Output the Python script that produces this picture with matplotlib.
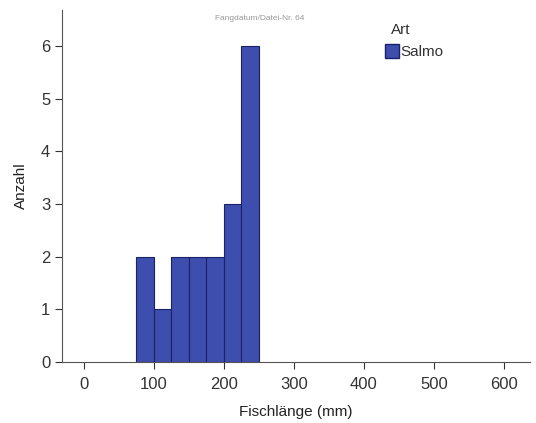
import matplotlib
matplotlib.use("Agg")
import matplotlib.pyplot as plt
from matplotlib.patches import Patch

plt.rcParams['font.family'] = ['Liberation Sans', 'DejaVu Sans']

bin_edges = [75, 100, 125, 150, 175, 200, 225, 250]
counts = [2, 1, 2, 2, 2, 3, 6]
x_ticks = [0, 100, 200, 300, 400, 500, 600]
y_ticks = [0, 1, 2, 3, 4, 5, 6]
series_name = "Salmo"
legend_title = "Art"
title = "Fangdatum/Datei-Nr. 64"

fig = plt.figure(figsize=(5.36, 4.23), dpi=100)
ax = fig.add_axes([0.1157, 0.1442, 0.873, 0.832])

lefts = bin_edges[:-1]
widths = [b - a for a, b in zip(bin_edges[:-1], bin_edges[1:])]
ax.bar(lefts, counts, width=widths, align='edge', color='#3E4EAE',
       edgecolor='#1A2266', linewidth=0.8)

ax.set_xlim(-31, 637)
ax.set_ylim(0, 6.68)
ax.set_xticks(x_ticks)
ax.set_yticks(y_ticks)
ax.tick_params(direction='out', length=5, width=0.8, labelsize=12, colors='#333333')
ax.tick_params(axis='x', pad=6)
for s in ['top', 'right']:
    ax.spines[s].set_visible(False)
for s in ['left', 'bottom']:
    ax.spines[s].set_color('#555555')
    ax.spines[s].set_linewidth(0.8)
ax.set_xlabel("Fischlänge (mm)", fontsize=11, color='#222222', labelpad=9)
ax.set_ylabel("Anzahl", fontsize=11, color='#222222', labelpad=9)

fig.text(0.485, 0.957, title, fontsize=6, color='#999999', ha='center', va='center')
fig.text(401 / 536, 1 - 30 / 423, legend_title, fontsize=11, color='#333333',
         ha='center', va='center')

leg = ax.legend(handles=[Patch(facecolor='#3E4EAE', edgecolor='#1A2266', label=series_name)],
                loc='upper left', bbox_to_anchor=(0.668, 0.935),
                frameon=False, fontsize=11,
                handlelength=0.9, handleheight=1.1, handletextpad=0.1, borderpad=0.2)
for t in leg.get_texts():
    t.set_color('#333333')

fig.savefig("out.png", dpi=100)
